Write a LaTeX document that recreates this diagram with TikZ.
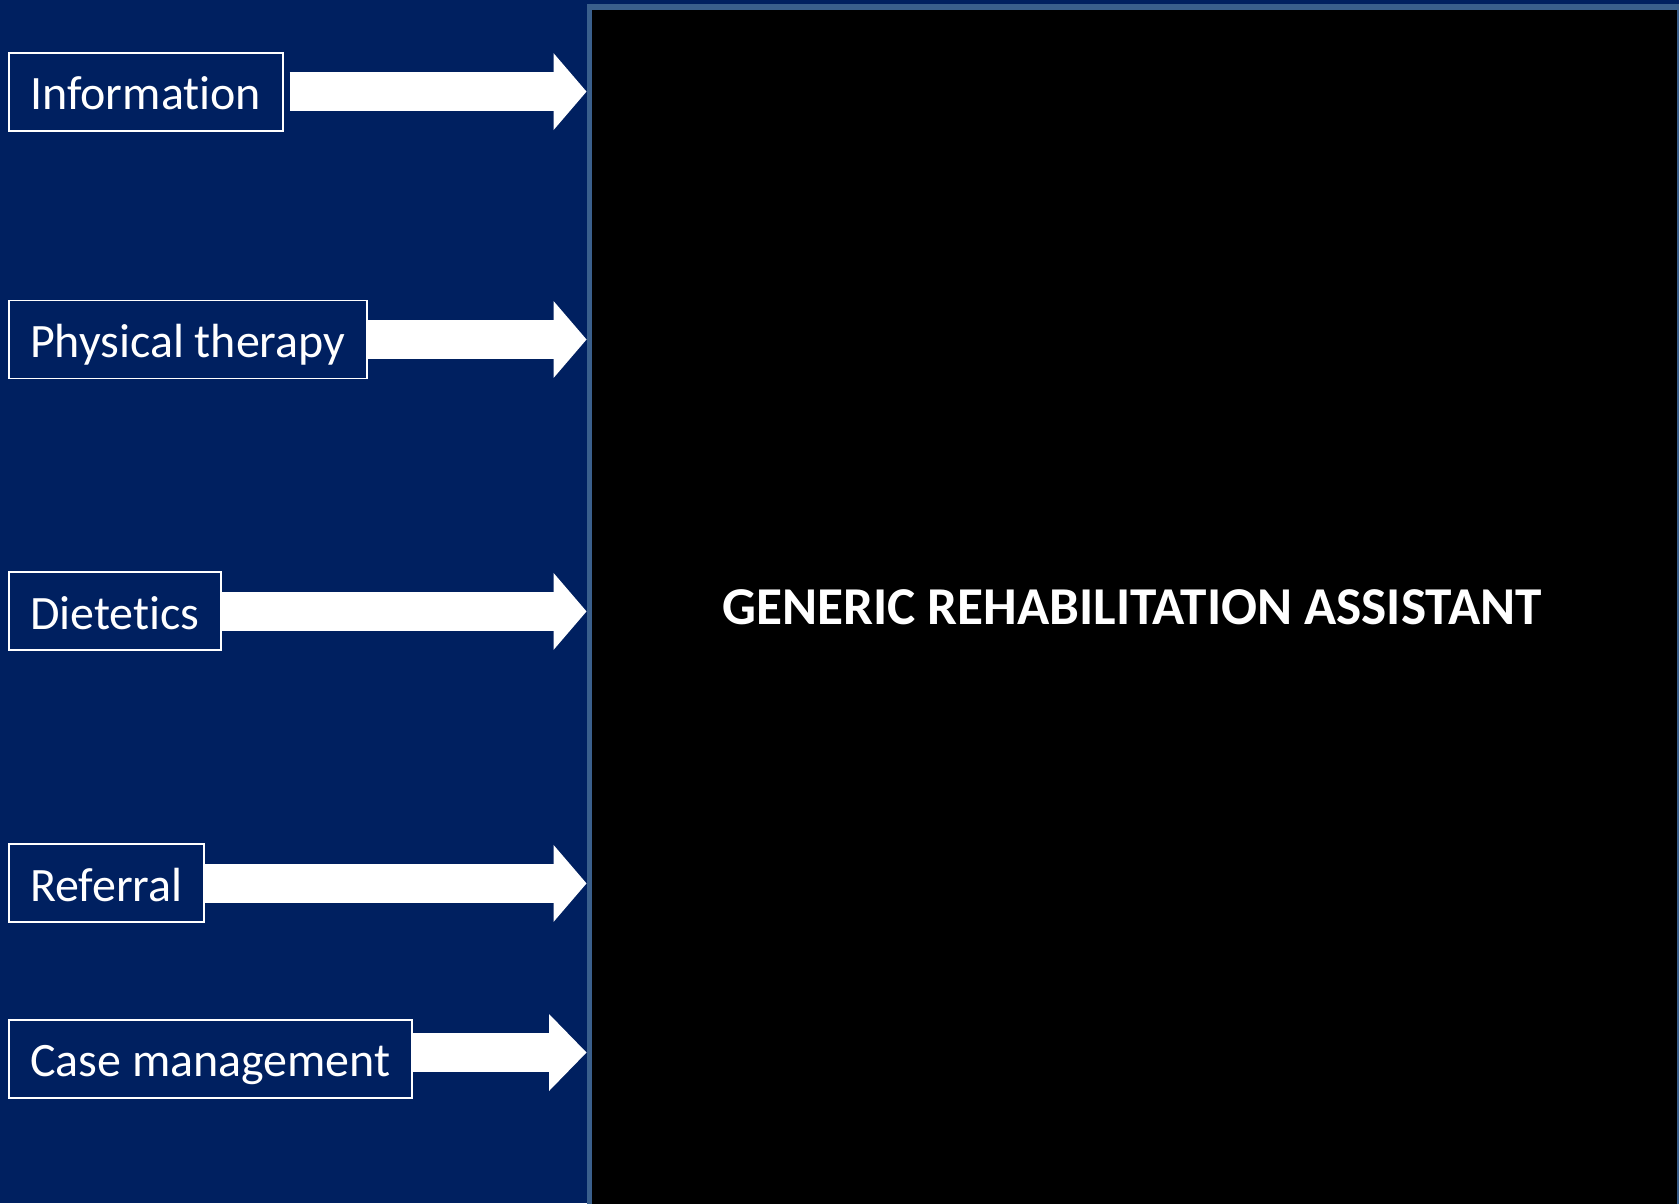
\documentclass[tikz,border=0pt]{standalone}
\usepackage{fontspec}
\setmainfont{Carlito}[Ligatures=NoCommon]
\usetikzlibrary{arrows.meta,positioning}
\definecolor{navybg}{RGB}{0,32,96}
\definecolor{panelrim}{RGB}{58,95,140}

\begin{document}
\begin{tikzpicture}[
  x=0.02cm, y=-0.02cm,
  lbl/.style={draw=white,line width=1.1pt,fill=navybg,text=white,anchor=west,
    minimum height=1.56cm,inner xsep=0.43cm,text height=0.75cm,text depth=0.04cm,
    font=\fontsize{27.3}{32}\selectfont},
  blk/.style={draw=white,line width=0.77cm,
    -{Triangle[length=0.66cm,width=1.54cm,line width=0pt]}},
  panel/.style={draw=panelrim,line width=3pt,fill=black,inner sep=0pt,anchor=north west,
    minimum width=21.81cm,minimum height=24.4cm},
  ttl/.style={text=white,font=\bfseries\fontsize{30.3}{36}\selectfont}
]

% ---- page ----
\useasboundingbox (0,0) rectangle (1679,1203);
\fill[navybg] (0,0) rectangle (1679,1203);

% ---- right panel ----
\node[panel] (panel) at (586.5,4.5) {};
\node[ttl] (title) at (1132,607) {GENERIC REHABILITATION ASSISTANT};

% ---- input boxes ----
\node[lbl] (info) at (7.6,91.6)  {Information};
\node[lbl] (phys) at (7.6,339.5) {Physical therapy};
\node[lbl] (diet) at (7.6,611.4) {Dietetics};
\node[lbl] (refr) at (7.6,883.4) {Referral};
\node[lbl] (case) at (7.6,1059)  {Case management};

% ---- arrows into the panel ----
\draw[blk,shorten <=0.12cm] (info.east) -- (info.east -| panel.west);
\foreach \n in {phys,diet,refr}
  \draw[blk] (\n.east) -- (\n.east -| panel.west);
\coordinate (casefrom) at ([yshift=0.13cm]case.east);
\draw[blk,-{Triangle[length=0.75cm,width=1.54cm,line width=0pt]}]
  (casefrom) -- (casefrom -| panel.west);

\end{tikzpicture}
\end{document}
